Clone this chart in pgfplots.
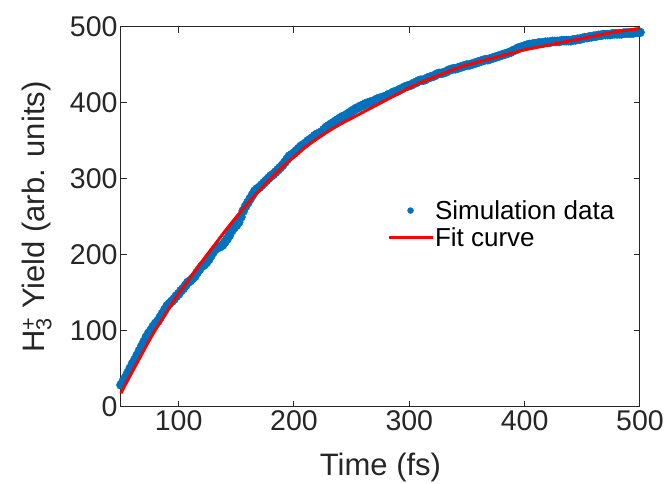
\documentclass[border=0pt]{standalone}
\usepackage{fontspec}
\setmainfont{Liberation Sans}
\usepackage{pgfplots}
\pgfplotsset{compat=1.18}
\usepackage{pgfplotstable}
\definecolor{mblue}{HTML}{0072BD}
\definecolor{axgray}{HTML}{262626}

\pgfplotstableread{
t y
50 29
52 34
54 39
56 45
58 51
60 57
62 62
64 68
66 74
68 80
70 86
72 92
74 97
76 101
78 106
80 110
82 113
84 118
86 123
88 128
90 133
92 136
94 139
96 142
98 146
100 149
102 153
104 156
106 160
108 164
110 166
112 169
114 172
116 177
118 181
120 185
122 187
124 190
126 194
128 199
130 204
132 208
134 210
136 211
138 213
140 217
142 221
144 226
146 232
148 236
150 239
152 243
154 250
156 258
158 264
160 269
162 274
164 279
166 284
168 287
170 289
172 292
174 295
176 298
178 301
180 304
182 306
184 309
186 312
188 315
190 318
192 322
194 326
196 330
198 332
200 334
202 337
204 340
206 343
208 345
210 347
212 350
214 352
216 354
218 357
220 359
222 360
224 362
226 365
228 368
230 370
232 372
234 374
236 376
238 378
240 380
242 382
244 383
246 385
248 387
250 389
252 391
254 393
256 394
258 396
260 397
262 399
264 400
266 401
268 402
270 403
272 405
274 406
276 407
278 408
280 409
282 411
284 412
286 414
288 415
290 416
292 418
294 419
296 421
298 422
300 423
302 424
304 426
306 427
308 429
310 430
312 430
314 431
316 433
318 434
320 435
322 436
324 438
326 439
328 439
330 440
332 441
334 443
336 444
338 445
340 445
342 446
344 447
346 448
348 449
350 450
352 450
354 451
356 452
358 453
360 454
362 455
364 456
366 457
368 457
370 458
372 459
374 460
376 461
378 462
380 463
382 464
384 465
386 466
388 467
390 469
392 470
394 472
396 473
398 474
400 475
402 476
404 477
406 477
408 478
410 478
412 479
414 479
416 479
418 480
420 480
422 480
424 481
426 481
428 481
430 481
432 482
434 482
436 482
438 482
440 482
442 483
444 483
446 484
448 484
450 485
452 486
454 486
456 487
458 487
460 488
462 488
464 489
466 489
468 490
470 490
472 490
474 490
476 491
478 491
480 491
482 491
484 491
486 492
488 492
490 492
492 492
494 492
496 493
498 493
500 493
}\simdata

\pgfplotstableread{
t y
50 18
55 33
60 47
65 61
70 75
75 89
80 102
85 114
90 126
95 138
100 149
110 170
120 191
130 211
140 231
150 250
160 268
170 285
180 301
190 316
200 329
210 342
220 353
230 363
240 372
250 380
260 388
270 396
280 404
290 412
300 420
310 427
320 433
330 439
340 445
350 450
360 454
370 458
380 462
390 466
400 470
410 473
420 476
430 479
440 482
450 485
460 488
470 491
480 494
490 496
500 498
}\fitdata

\begin{document}
\begin{tikzpicture}
\useasboundingbox (-121pt,-77pt) rectangle (549pt,407pt);
\begin{axis}[
  at={(0pt,0pt)}, anchor=south west,
  scale only axis, width=519pt, height=380pt,
  xmin=50, xmax=500, ymin=0, ymax=500,
  clip=false, clip marker paths=true,
  xtick={100,200,300,400,500}, ytick={0,100,200,300,400,500},
  tick align=inside, major tick length=6pt,
  axis line style={axgray, line width=1pt},
  every tick/.style={axgray, line width=1pt},
  tick label style={font=\fontsize{28.5}{34}\selectfont, text=axgray},
  /pgf/number format/assume math mode=true,
  xlabel={Time (fs)},
  ylabel={H\rlap{\textsuperscript{+}}\textsubscript{3} Yield (arb. units)},
  label style={font=\fontsize{31}{37}\selectfont, text=axgray},
  xlabel style={at={(axis description cs:0.5,-0.16)}, anchor=center},
  ylabel style={at={(axis description cs:-0.162,0.5)}, anchor=center},
  legend style={draw=none, fill=none, at={(axis cs:280.5,240.5)}, anchor=west,
    inner sep=0pt, row sep=5pt,
    font=\fontsize{26}{31}\selectfont, text=black,
    nodes={inner sep=1pt}},
  legend cell align=left,
]
\addplot[only marks, mark=*, mark size=4.6pt, color=mblue,
  legend image code/.code={\draw[mark repeat=2, mark phase=2, only marks, mark=*, mark size=3pt, color=mblue] plot coordinates {(0pt,0pt)(22pt,0pt)(44pt,0pt)};}]
  table[x=t,y=y] {\simdata};
\addlegendentry{Simulation data}
\addplot[red, line width=3pt, smooth,
  legend image code/.code={\draw[red, line width=3pt] (0pt,0pt) -- (44pt,0pt);}]
  table[x=t,y=y] {\fitdata};
\addlegendentry{Fit curve}
\end{axis}
\end{tikzpicture}
\end{document}
